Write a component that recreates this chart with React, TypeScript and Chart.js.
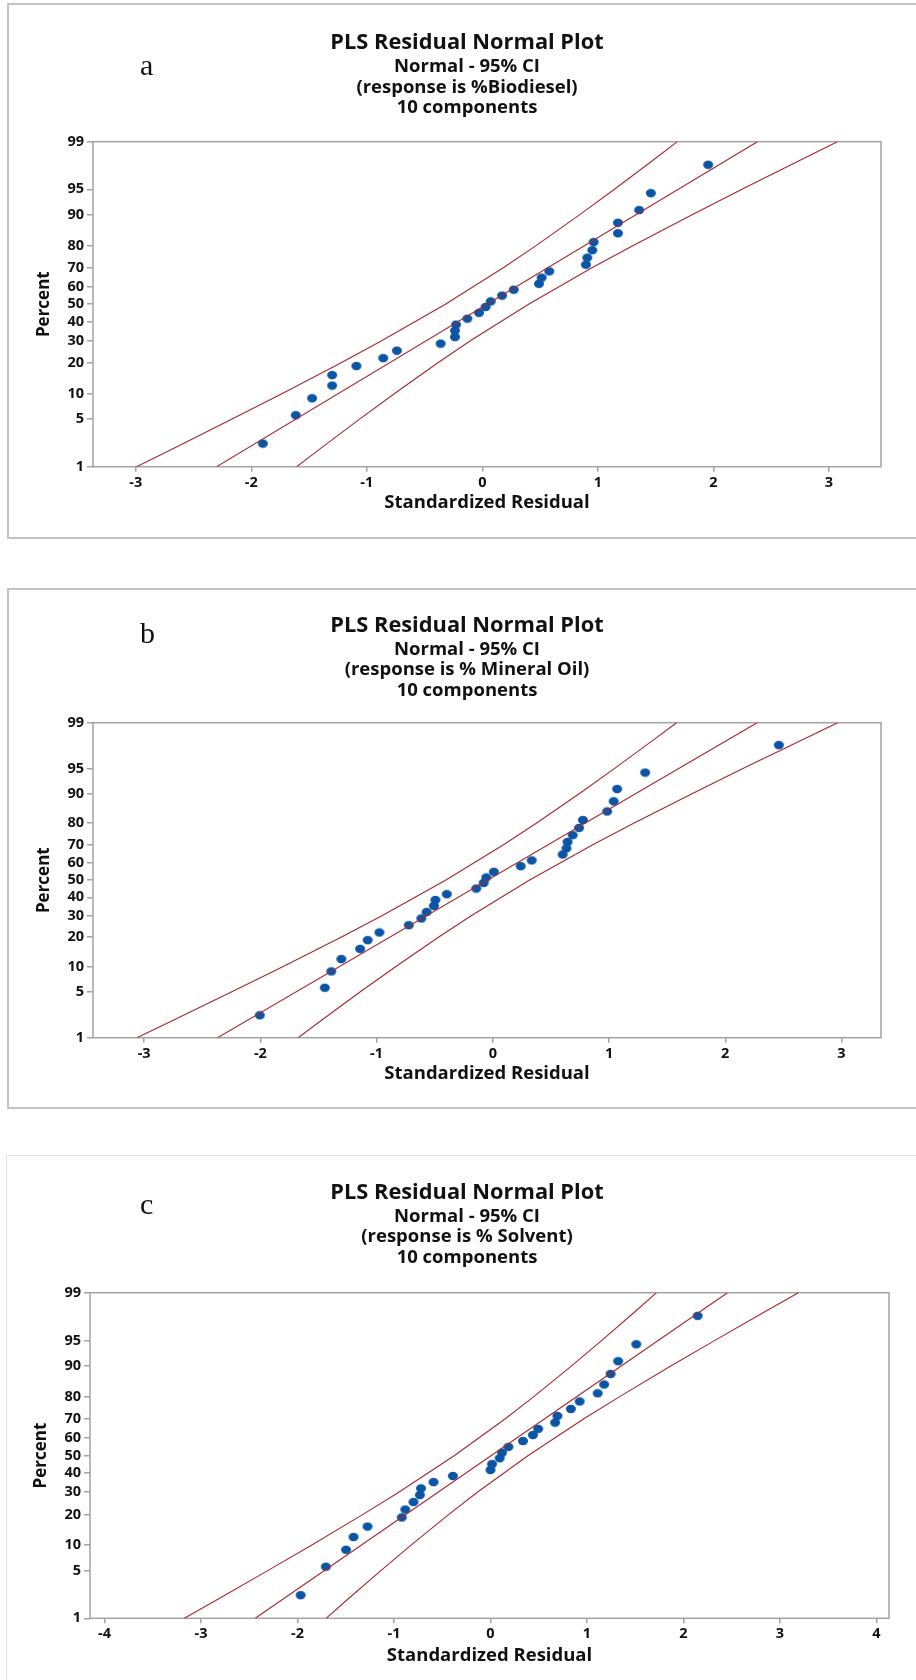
import React, { useEffect, useRef } from "react";
import { Chart, registerables, LinearScale } from "chart.js";

Chart.register(...registerables);

// ---------------- data ----------------
const PERCENT_TICKS = [1, 5, 10, 20, 30, 40, 50, 60, 70, 80, 90, 95, 99];

// plotting positions (percent) of the 30 residuals
const POINT_PERCENTS = [
  2.3, 5.6, 8.9, 12.2, 15.5, 18.8, 22.0, 25.3, 28.6, 31.9, 35.2, 38.5, 41.8, 45.1, 48.4,
  51.6, 54.9, 58.2, 61.5, 64.8, 68.1, 71.4, 74.7, 78.0, 81.3, 84.5, 87.8, 91.1, 94.4, 97.7,
];

const RESID_BIODIESEL = [
  -1.9, -1.615, -1.474, -1.3, -1.3, -1.09, -0.858, -0.74, -0.361, -0.237, -0.237, -0.228, -0.13,
  -0.029, 0.028, 0.072, 0.17, 0.271, 0.49, 0.513, 0.579, 0.896, 0.908, 0.951, 0.963, 1.173,
  1.173, 1.357, 1.458, 1.954,
];
const RESID_MINERAL = [
  -2.005, -1.446, -1.39, -1.303, -1.142, -1.077, -0.976, -0.723, -0.615, -0.57, -0.507, -0.494,
  -0.396, -0.142, -0.079, -0.056, 0.009, 0.24, 0.335, 0.601, 0.634, 0.643, 0.687, 0.742, 0.775,
  0.984, 1.04, 1.07, 1.311, 2.461,
];
const RESID_SOLVENT = [
  -1.967, -1.706, -1.497, -1.419, -1.274, -0.919, -0.883, -0.798, -0.732, -0.72, -0.59, -0.39, 0.0,
  0.016, 0.095, 0.12, 0.186, 0.337, 0.44, 0.494, 0.67, 0.694, 0.833, 0.924, 1.111, 1.178, 1.245,
  1.323, 1.511, 2.147,
];

// fitted normal line: residual at 1% and 99%
const FIT_PERCENTS = [1, 99];
const FIT_BIODIESEL = [-2.3, 2.38];
const FIT_MINERAL = [-2.368, 2.274];
const FIT_SOLVENT = [-2.438, 2.456];

// 95% CI bands: residual read at these percent levels
const BAND_PERCENTS = [1, 2, 5, 10, 20, 30, 50, 70, 80, 90, 95, 98, 99];
const LOWER_BIODIESEL = [-2.993, -2.661, -2.167, -1.735, -1.226, -0.872, -0.32, 0.184, 0.468, 0.843, 1.143, 1.471, 1.687];
const UPPER_BIODIESEL = [-1.607, -1.391, -1.063, -0.763, -0.388, -0.104, 0.4, 0.952, 1.306, 1.815, 2.247, 2.741, 3.073];
const LOWER_MINERAL = [-3.061, -2.732, -2.241, -1.812, -1.306, -0.954, -0.407, 0.092, 0.374, 0.746, 1.043, 1.368, 1.581];
const UPPER_MINERAL = [-1.675, -1.462, -1.137, -0.84, -0.468, -0.186, 0.313, 0.86, 1.212, 1.718, 2.147, 2.638, 2.967];
const LOWER_SOLVENT = [-3.173, -2.825, -2.308, -1.855, -1.321, -0.95, -0.373, 0.154, 0.449, 0.841, 1.154, 1.497, 1.721];
const UPPER_SOLVENT = [-1.703, -1.479, -1.136, -0.823, -0.431, -0.136, 0.391, 0.968, 1.339, 1.873, 2.326, 2.843, 3.191];

const TITLE = "PLS Residual Normal Plot";
const SUBTITLE_1 = "Normal - 95% CI";
const SUBTITLE_3 = "10 components";
const X_TITLE = "Standardized Residual";
const Y_TITLE = "Percent";

// ---------------- styles / layout ----------------
const RED = "#a8282c";
const BLUE = "#0b55a5";
const FONT = "'Open Sans', 'Noto Sans', sans-serif";
const AXIS_GRAY = "#a3a3a3";
const CANVAS_W = 918;

type Spec = {
  letter: string;
  response: string;
  resid: number[];
  fit: number[];
  lower: number[];
  upper: number[];
  xMin: number;
  xMax: number;
  top: number;
  h: number;
  titlePadTop: number;
  subPadTop: number;
  subPadBottom: number;
  xScaleH: number;
  xTitlePadBottom: number;
  yScaleW: number;
  yTitlePadTop: number;
  rightW: number;
  letterBaseline: number;
};

// title: 21.8px * 1.2 = 26.16 line; subtitle: 18.5px * 1.12 = 20.72 line (3 lines = 62.16)
const PANELS: Spec[] = [
  {
    letter: "a", response: "(response is %Biodiesel)",
    resid: RESID_BIODIESEL, fit: FIT_BIODIESEL, lower: LOWER_BIODIESEL, upper: UPPER_BIODIESEL,
    xMin: -3.37, xMax: 3.45,
    top: 5, h: 533, titlePadTop: 24.6, subPadTop: 0.56, subPadBottom: 23.2,
    xScaleH: 71.3, xTitlePadBottom: 23.9, yScaleW: 85, yTitlePadTop: 26.2, rightW: 45,
    letterBaseline: 70,
  },
  {
    letter: "b", response: "(response is % Mineral Oil)",
    resid: RESID_MINERAL, fit: FIT_MINERAL, lower: LOWER_MINERAL, upper: UPPER_MINERAL,
    xMin: -3.44, xMax: 3.34,
    top: 591, h: 516, titlePadTop: 21.9, subPadTop: 0, subPadBottom: 21.48,
    xScaleH: 69.3, xTitlePadBottom: 21.9, yScaleW: 85, yTitlePadTop: 26.2, rightW: 45,
    letterBaseline: 52,
  },
  {
    letter: "c", response: "(response is % Solvent)",
    resid: RESID_SOLVENT, fit: FIT_SOLVENT, lower: LOWER_SOLVENT, upper: UPPER_SOLVENT,
    xMin: -4.15, xMax: 4.13,
    top: 1157, h: 523, titlePadTop: 22.9, subPadTop: 0, subPadBottom: 24.48,
    xScaleH: 61.7, xTitlePadBottom: 12.9, yScaleW: 82, yTitlePadTop: 23.2, rightW: 37,
    letterBaseline: 57,
  },
];

// ---------------- normal probability scale ----------------
function probit(p: number): number {
  const a = [-39.69683028665376, 220.9460984245205, -275.9285104469687, 138.357751867269, -30.66479806614716, 2.506628277459239];
  const b = [-54.47609879822406, 161.5858368580409, -155.6989798598866, 66.80131188771972, -13.28068155288572];
  const c = [-0.007784894002430293, -0.3223964580411365, -2.400758277161838, -2.549732539343734, 4.374664141464968, 2.938163982698783];
  const d = [0.007784695709041462, 0.3224671290700398, 2.445134137142996, 3.754408661907416];
  const pl = 0.02425;
  if (p < pl) {
    const q = Math.sqrt(-2 * Math.log(p));
    return (((((c[0] * q + c[1]) * q + c[2]) * q + c[3]) * q + c[4]) * q + c[5]) / ((((d[0] * q + d[1]) * q + d[2]) * q + d[3]) * q + 1);
  }
  if (p > 1 - pl) {
    const q = Math.sqrt(-2 * Math.log(1 - p));
    return -(((((c[0] * q + c[1]) * q + c[2]) * q + c[3]) * q + c[4]) * q + c[5]) / ((((d[0] * q + d[1]) * q + d[2]) * q + d[3]) * q + 1);
  }
  const q = p - 0.5;
  const r = q * q;
  return ((((((a[0] * r + a[1]) * r + a[2]) * r + a[3]) * r + a[4]) * r + a[5]) * q) / (((((b[0] * r + b[1]) * r + b[2]) * r + b[3]) * r + b[4]) * r + 1);
}

class ProbabilityScale extends LinearScale {
  static id = "probability";
  determineDataLimits() {
    const o: any = (this as any).options;
    (this as any).min = o.min ?? 1;
    (this as any).max = o.max ?? 99;
  }
  buildTicks() {
    return PERCENT_TICKS.map((v) => ({ value: v }));
  }
  configure() {
    super.configure();
    (this as any)._zmin = probit((this as any).min / 100);
    (this as any)._zmax = probit((this as any).max / 100);
  }
  getPixelForValue(value: number) {
    const s: any = this;
    const z = probit(value / 100);
    return s.getPixelForDecimal((z - s._zmin) / (s._zmax - s._zmin));
  }
}
Chart.register(ProbabilityScale as any);

function makeDot(): HTMLCanvasElement {
  const cv = document.createElement("canvas");
  cv.width = 12;
  cv.height = 10;
  const ctx = cv.getContext("2d")!;
  ctx.fillStyle = BLUE;
  ctx.beginPath();
  ctx.ellipse(6, 5, 5.0, 4.2, 0, 0, Math.PI * 2);
  ctx.fill();
  return cv;
}

function Panel({ spec }: { spec: Spec }) {
  const ref = useRef<HTMLCanvasElement | null>(null);
  useEffect(() => {
    const dot = makeDot();
    const frame = {
      id: "plotFrame",
      beforeDatasetsDraw(chart: any) {
        const { ctx, chartArea } = chart;
        ctx.save();
        ctx.strokeStyle = AXIS_GRAY;
        ctx.lineWidth = 1.5;
        ctx.strokeRect(chartArea.left, chartArea.top, chartArea.right - chartArea.left, chartArea.bottom - chartArea.top);
        ctx.restore();
      },
    };
    const letter = {
      id: "panelLetter",
      afterDraw(chart: any) {
        const ctx = chart.ctx;
        ctx.save();
        ctx.font = "30px 'Liberation Serif', 'DejaVu Serif', serif";
        ctx.fillStyle = "#111";
        ctx.textBaseline = "alphabetic";
        ctx.fillText(spec.letter, 132, spec.letterBaseline);
        ctx.restore();
      },
    };
    const lineDs = (label: string, xs: number[], ps: number[]) => ({
      label,
      data: ps.map((p, i) => ({ x: xs[i], y: p })),
      showLine: true,
      borderColor: RED,
      borderWidth: 1.1,
      pointRadius: 0,
      fill: false,
      tension: 0,
    });
    const tickFont = { family: FONT, size: 14.5, weight: "bold" };
    const chart = new Chart(ref.current as HTMLCanvasElement, {
      type: "scatter",
      data: {
        datasets: [
          lineDs("Lower 95% CI", spec.lower, BAND_PERCENTS),
          lineDs("Fit", spec.fit, FIT_PERCENTS),
          lineDs("Upper 95% CI", spec.upper, BAND_PERCENTS),
          {
            label: "Residuals",
            data: POINT_PERCENTS.map((p, i) => ({ x: spec.resid[i], y: p })),
            pointStyle: dot as any,
            pointRadius: 5,
            backgroundColor: BLUE,
            borderWidth: 0,
            showLine: false,
          },
        ],
      } as any,
      options: {
        animation: false,
        responsive: false,
        events: [],
        layout: { padding: 0 },
        plugins: {
          legend: { display: false },
          tooltip: { enabled: false },
          title: {
            display: true,
            text: TITLE,
            color: "#111",
            font: { family: FONT, size: 21.8, weight: "bold", lineHeight: 1.2 },
            padding: { top: spec.titlePadTop, bottom: 0 },
          },
          subtitle: {
            display: true,
            text: [SUBTITLE_1, spec.response, SUBTITLE_3],
            color: "#111",
            font: { family: FONT, size: 18.5, weight: "bold", lineHeight: 1.12 },
            padding: { top: spec.subPadTop, bottom: spec.subPadBottom },
          },
        },
        scales: {
          x: {
            type: "linear",
            position: "bottom",
            min: spec.xMin,
            max: spec.xMax,
            border: { display: false },
            grid: { display: true, drawOnChartArea: false, drawTicks: true, tickLength: 5, tickColor: AXIS_GRAY, lineWidth: 1.5 },
            ticks: { stepSize: 1, includeBounds: false, autoSkip: false, maxRotation: 0, padding: 2, color: "#111", font: tickFont },
            title: {
              display: true,
              text: X_TITLE,
              color: "#111",
              font: { family: FONT, size: 18.5, weight: "bold", lineHeight: 1.2 },
              padding: { top: 0, bottom: spec.xTitlePadBottom },
            },
            afterFit: (s: any) => {
              s.height = spec.xScaleH;
            },
          },
          y: {
            type: "probability",
            position: "left",
            min: 1,
            max: 99,
            border: { display: false },
            grid: { display: true, drawOnChartArea: false, drawTicks: true, tickLength: 6, tickColor: AXIS_GRAY, lineWidth: 1.5 },
            ticks: { autoSkip: false, padding: 3, color: "#111", font: tickFont, callback: (v: any) => String(v) },
            title: {
              display: true,
              text: Y_TITLE,
              color: "#111",
              font: { family: FONT, size: 17, weight: "bold", lineHeight: 1.2 },
              padding: { top: spec.yTitlePadTop, bottom: 0 },
            },
            afterFit: (s: any) => {
              s.width = spec.yScaleW;
            },
          },
          // empty right-hand margin so the titles are centred on the whole panel
          yRight: {
            type: "linear",
            position: "right",
            display: true,
            border: { display: false },
            grid: { display: false },
            ticks: { display: false },
            afterFit: (s: any) => {
              s.width = spec.rightW;
            },
          },
        } as any,
      },
      plugins: [frame, letter],
    });
    return () => chart.destroy();
  }, [spec]);
  return (
    <canvas
      ref={ref}
      width={CANVAS_W}
      height={spec.h}
      style={{ position: "absolute", left: 8, top: spec.top, width: CANVAS_W, height: spec.h }}
    />
  );
}

export default function App() {
  useEffect(() => {
    document.body.style.margin = "0";
    document.documentElement.style.overflow = "hidden";
  }, []);
  return (
    <div style={{ position: "relative", width: 916, height: 1680, overflow: "hidden", background: "#fff" }}>
      <div style={{ position: "absolute", left: 7, top: 3, width: 1000, height: 536, border: "2px solid #c3c3c3", boxSizing: "border-box" }} />
      <div style={{ position: "absolute", left: 7, top: 588, width: 1000, height: 521, border: "2px solid #c3c3c3", boxSizing: "border-box" }} />
      <div style={{ position: "absolute", left: 6, top: 1155, width: 1000, height: 600, border: "1px solid #e2e2e2", boxSizing: "border-box" }} />
      {PANELS.map((p) => (
        <Panel key={p.letter} spec={p} />
      ))}
    </div>
  );
}
